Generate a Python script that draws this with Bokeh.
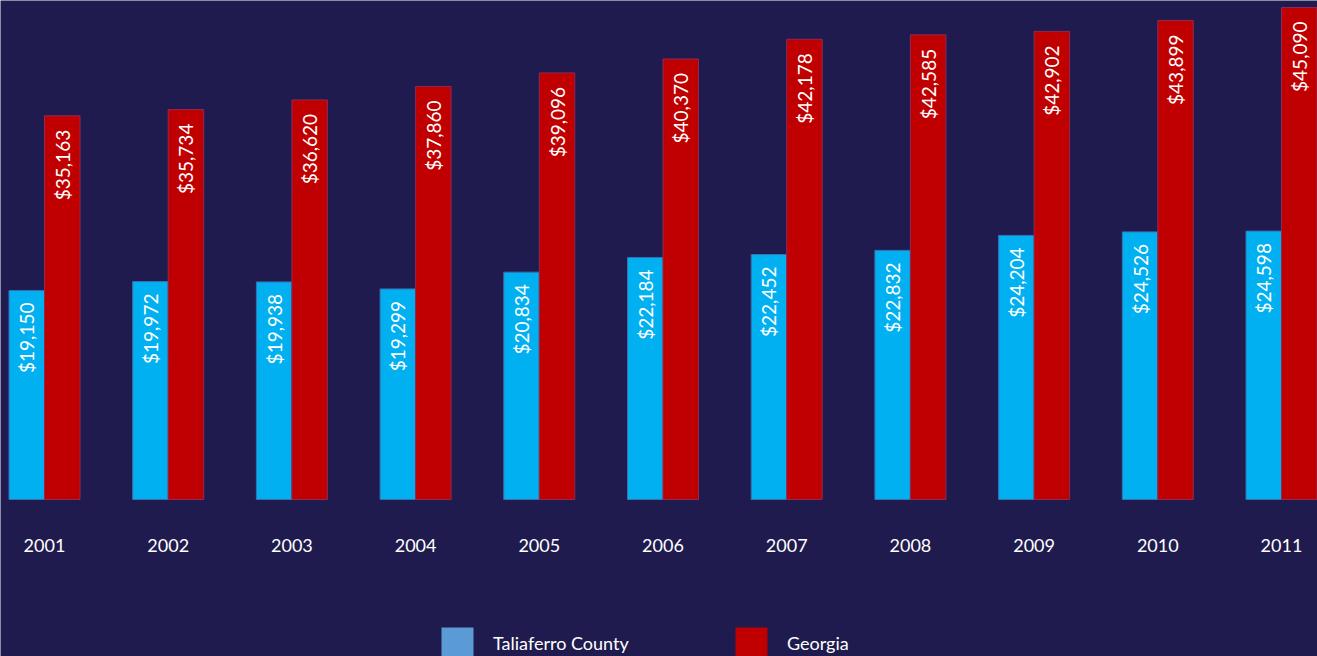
import numpy as np
from bokeh.plotting import figure
from bokeh.models import ColumnDataSource, Range1d, Legend, LegendItem
from bokeh.core.properties import value
from bokeh.embed import file_html
from bokeh.resources import INLINE

years = ["2001", "2002", "2003", "2004", "2005", "2006", "2007", "2008", "2009", "2010", "2011"]
county = [19150, 19972, 19938, 19299, 20834, 22184, 22452, 22832, 24204, 24526, 24598]
georgia = [35163, 35734, 36620, 37860, 39096, 40370, 42178, 42585, 42902, 43899, 45090]

BG = "#1f1b4e"
BLUE = "#00b0f0"
RED = "#c00000"
LEG_BLUE = "#5b9bd5"
FONT = "Lato"

W, H = 1317, 656
base_px = 499          # baseline position from top of figure
scale = 492 / 45090    # px per unit
y_top = base_px / scale
y_bot = -(H - base_px) / scale

step = 123.7
bw = 35.5 / step
idx = np.arange(len(years))

src = ColumnDataSource(dict(
    xc=idx - bw / 2,
    xg=idx + bw / 2,
    x=idx,
    county=county,
    georgia=georgia,
    years=years,
    county_lbl=["${:,}".format(v) for v in county],
    georgia_lbl=["${:,}".format(v) for v in georgia],
    zero=[0] * len(years),
))

p = figure(width=W, height=H, output_backend="svg", toolbar_location=None,
           x_range=Range1d(-44 / step, (W - 44) / step), y_range=Range1d(y_bot, y_top),
           min_border=0, background_fill_color=BG, border_fill_color=BG,
           outline_line_color=None, x_axis_type=None, y_axis_type=None)
p.grid.visible = False

p.vbar(x="xc", top="county", bottom=0, width=bw, source=src,
       fill_color=BLUE, line_color="#3a6fb0", line_width=1)
p.vbar(x="xg", top="georgia", bottom=0, width=bw, source=src,
       fill_color=RED, line_color="#8e2a55", line_width=1)

# value labels inside bar tops, rotated
for xcol, ycol, lcol, off in (("xc", "county", "county_lbl", 12),
                              ("xg", "georgia", "georgia_lbl", 14)):
    p.text(x=xcol, y=ycol, text=lcol, source=src, angle=np.pi / 2,
           text_align="right", text_baseline="middle", y_offset=off,
           text_color="#ffffff", text_font=value(FONT), text_font_size="19px")

# year labels
p.text(x="x", y="zero", text="years", source=src, y_offset=46,
       text_align="center", text_baseline="middle",
       text_color="#ffffff", text_font=value(FONT), text_font_size="18px")

# legend proxy renderers (zero-height, invisible in the plot)
lb = p.vbar(x=[0], top=[0], bottom=[0], width=0.01, fill_color=LEG_BLUE, line_color=None)
lr = p.vbar(x=[0], top=[0], bottom=[0], width=0.01, fill_color=RED, line_color=None)

legend = Legend(items=[LegendItem(label="Taliaferro County", renderers=[lb]),
                       LegendItem(label="Georgia", renderers=[lr])],
                orientation="horizontal", location=(437, -7),
                glyph_width=40, glyph_height=40, label_standoff=16,
                label_width=228, spacing=10, padding=0, margin=0,
                border_line_color=None, background_fill_alpha=0,
                label_text_color="#ffffff", label_text_font=FONT,
                label_text_font_size="18px")
p.add_layout(legend, "center")

open("out.html", "w").write(file_html(p, INLINE))
